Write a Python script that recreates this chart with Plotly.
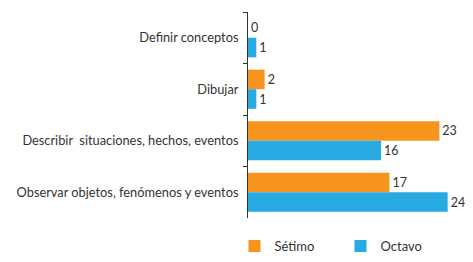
import plotly.graph_objects as go

categories = ["Definir conceptos", "Dibujar", "Describir\u00a0 situaciones, hechos, eventos",
              "Observar objetos, fenómenos y eventos"]
setimo = [0, 2, 23, 17]
octavo = [1, 1, 16, 24]

font = "Lato, 'Open Sans', sans-serif"
fig = go.Figure()
fig.add_trace(go.Bar(name="Sétimo", y=categories, x=setimo, orientation="h",
                     marker=dict(color="#F7941D", line=dict(width=0)),
                     text=[str(v) for v in setimo], textposition="outside",
                     textfont=dict(size=12.5, color="#333333", family=font), cliponaxis=False))
fig.add_trace(go.Bar(name="Octavo", y=categories, x=octavo, orientation="h",
                     marker=dict(color="#27AAE1", line=dict(width=0)),
                     text=[str(v) for v in octavo], textposition="outside",
                     textfont=dict(size=12.5, color="#333333", family=font), cliponaxis=False))

fig.update_layout(
    template="none",
    width=465, height=254,
    margin=dict(l=240, r=17, t=4, b=44, autoexpand=False),
    paper_bgcolor="white", plot_bgcolor="white",
    barmode="group", bargap=0.24, bargroupgap=0,
    font=dict(family=font, size=12, color="#333333"),
    xaxis=dict(range=[0, 25], visible=False, showgrid=False, zeroline=False),
    yaxis=dict(autorange="reversed", showgrid=False, zeroline=False, automargin=False,
               showline=True, linecolor="#333333", linewidth=1,
               ticks="outside", ticklen=4, tickcolor="#333333", tickson="boundaries",
               ticklabelstandoff=6,
               tickfont=dict(size=12.8, color="#333333", family=font)),
    showlegend=True,
    legend=dict(orientation="h", x=-0.065, xanchor="left", y=-0.136, yanchor="middle",
                font=dict(size=13, color="#333333", family=font),
                entrywidth=61, entrywidthmode="pixels", itemwidth=30,
                bgcolor="rgba(0,0,0,0)"),
)
fig.write_html("out.html")
